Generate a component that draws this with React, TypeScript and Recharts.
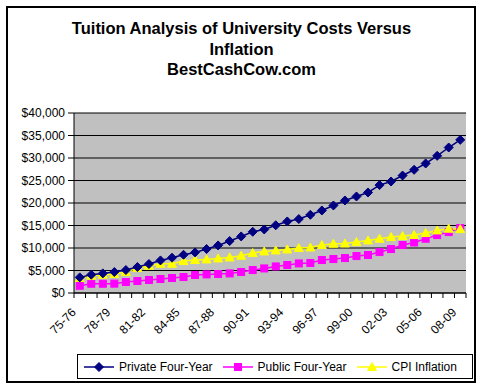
import React from "react";
import { LineChart, Line, XAxis, YAxis, CartesianGrid, Legend } from "recharts";

const years = [
  "75-76", "76-77", "77-78", "78-79", "79-80", "80-81", "81-82", "82-83", "83-84", "84-85",
  "85-86", "86-87", "87-88", "88-89", "89-90", "90-91", "91-92", "92-93", "93-94", "94-95",
  "95-96", "96-97", "97-98", "98-99", "99-00", "00-01", "01-02", "02-03", "03-04", "04-05",
  "05-06", "06-07", "07-08", "08-09",
];

const privateFourYear = [
  3470, 4070, 4360, 4660, 5100, 5770, 6440, 7240, 7840, 8500,
  9020, 9770, 10570, 11540, 12570, 13610, 14120, 15050, 15900, 16430,
  17380, 18340, 19450, 20560, 21450, 22340, 23980, 24780, 26110, 27380,
  28780, 30480, 32330, 34030,
];

const publicFourYear = [
  1620, 2060, 2060, 2080, 2440, 2660, 2890, 3110, 3330, 3550,
  4000, 4130, 4220, 4350, 4660, 5100, 5460, 5900, 6220, 6570,
  6660, 7330, 7550, 7770, 8210, 8440, 9100, 9770, 10660, 11230,
  12060, 12880, 13540, 14430,
];

const cpiInflation = [
  3330, 3840, 4060, 4220, 4660, 5550, 6060, 6500, 6500, 7100,
  7330, 7460, 7680, 7900, 8280, 8880, 9240, 9460, 9680, 9990,
  10120, 10660, 10950, 11010, 11320, 11680, 12060, 12430, 12650, 12880,
  13320, 13900, 14280, 14200,
];

const yTicks = [0, 5000, 10000, 15000, 20000, 25000, 30000, 35000, 40000];

const data = years.map((year, i) => ({
  year,
  privateFourYear: privateFourYear[i],
  publicFourYear: publicFourYear[i],
  cpiInflation: cpiInflation[i],
}));

const font = "'Liberation Sans', Arial, sans-serif";
const STEP = 392 / years.length;

const money = (v: number) => "$" + v.toLocaleString("en-US");

function XTick(props: any) {
  const { x, y, index } = props;
  const lx = x - STEP / 2;
  const ax = x - 6;
  const ay = y + 17;
  return (
    <g>
      <line x1={lx} y1={y} x2={lx} y2={y + 5} stroke="#000" />
      {index === years.length - 1 && (
        <line x1={x + STEP / 2} y1={y} x2={x + STEP / 2} y2={y + 5} stroke="#000" />
      )}
      {index % 3 === 0 && (
        <text
          x={ax}
          y={ay}
          transform={`rotate(-45, ${ax}, ${ay})`}
          textAnchor="end"
          dy="0.35em"
          fontSize={12}
          fontFamily={font}
          fill="#000"
        >
          {props.payload.value}
        </text>
      )}
    </g>
  );
}

function Diamond(props: any) {
  const { cx, cy } = props;
  if (cx == null || cy == null) return null;
  return <path d={`M${cx},${cy - 4.5}L${cx + 4.5},${cy}L${cx},${cy + 4.5}L${cx - 4.5},${cy}Z`} fill="#000080" stroke="#000080" />;
}

function Square(props: any) {
  const { cx, cy } = props;
  if (cx == null || cy == null) return null;
  return <rect x={cx - 3.5} y={cy - 3.5} width={7} height={7} fill="#FF00FF" stroke="#FF00FF" />;
}

function Triangle(props: any) {
  const { cx, cy } = props;
  if (cx == null || cy == null) return null;
  return <path d={`M${cx},${cy - 4.5}L${cx + 4.5},${cy + 3.5}L${cx - 4.5},${cy + 3.5}Z`} fill="#FFFF00" stroke="#FFFF00" />;
}

const legendItems = [
  { name: "Private Four-Year", color: "#000080", Marker: Diamond },
  { name: "Public Four-Year", color: "#FF00FF", Marker: Square },
  { name: "CPI Inflation", color: "#FFFF00", Marker: Triangle },
];

function LegendBox() {
  return (
    <div
      style={{
        border: "1px solid #000",
        height: 25,
        display: "flex",
        alignItems: "center",
        fontFamily: font,
        fontSize: 12,
        background: "#fff",
        paddingLeft: 4,
        boxSizing: "border-box",
      }}
    >
      {legendItems.map(({ name, color, Marker }) => (
        <div key={name} style={{ display: "flex", alignItems: "center", marginRight: 8 }}>
          <svg width={34} height={12}>
            <line x1={2} y1={6} x2={32} y2={6} stroke={color} strokeWidth={1.5} />
            <Marker cx={17} cy={6} />
          </svg>
          <span style={{ marginLeft: 3 }}>{name}</span>
        </div>
      ))}
    </div>
  );
}

export default function App() {
  return (
    <div style={{ position: "absolute", left: 0, top: 0, width: 483, height: 389, background: "#fff" }}>
      <div
        style={{
          position: "absolute",
          left: 6,
          top: 6,
          width: 470,
          height: 377,
          border: "2px solid #000",
          boxSizing: "border-box",
        }}
      />
      <div
        style={{
          position: "absolute",
          left: 0,
          top: 18,
          width: 483,
          textAlign: "center",
          fontFamily: font,
          fontWeight: "bold",
          fontSize: 16.5,
          lineHeight: "20.5px",
          color: "#000",
        }}
      >
        Tuition Analysis of University Costs Versus
        <br />
        Inflation
        <br />
        BestCashCow.com
      </div>
      <div style={{ position: "absolute", left: 0, top: 0 }}>
        <LineChart
          width={483}
          height={389}
          data={data}
          margin={{ top: 113, right: 17, left: 0, bottom: 10 }}
        >
          <CartesianGrid
            horizontal
            vertical={false}
            fill="#C0C0C0"
            stroke="#000"
            strokeWidth={1}
            syncWithTicks
          />
          <XAxis
            dataKey="year"
            interval={0}
            height={61}
            padding={{ left: STEP / 2, right: STEP / 2 }}
            tickLine={false}
            tickSize={0}
            tickMargin={0}
            tick={<XTick />}
            axisLine={{ stroke: "#000" }}
          />
          <XAxis
            xAxisId="top"
            orientation="top"
            dataKey="year"
            height={0}
            tick={false}
            tickLine={false}
            axisLine={{ stroke: "#808080" }}
          />
          <YAxis
            width={74}
            domain={[0, 40000]}
            ticks={yTicks}
            interval={0}
            tickFormatter={money}
            tickSize={6}
            tickMargin={3}
            tick={{ fontSize: 12, fontFamily: font, fill: "#000" }}
            tickLine={{ stroke: "#000" }}
            axisLine={{ stroke: "#000" }}
          />
          <YAxis
            yAxisId="right"
            orientation="right"
            width={0}
            tick={false}
            tickLine={false}
            axisLine={{ stroke: "#808080" }}
          />
          <Legend
            verticalAlign="bottom"
            content={() => <LegendBox />}
            wrapperStyle={{ left: 77, width: 396, bottom: 10, height: 25 }}
          />
          <Line
            type="linear"
            dataKey="publicFourYear"
            stroke="#FF00FF"
            strokeWidth={1.5}
            dot={<Square />}
            isAnimationActive={false}
          />
          <Line
            type="linear"
            dataKey="cpiInflation"
            stroke="#FFFF00"
            strokeWidth={1.5}
            dot={<Triangle />}
            isAnimationActive={false}
          />
          <Line
            type="linear"
            dataKey="privateFourYear"
            stroke="#000080"
            strokeWidth={1.5}
            dot={<Diamond />}
            isAnimationActive={false}
          />
        </LineChart>
      </div>
    </div>
  );
}
